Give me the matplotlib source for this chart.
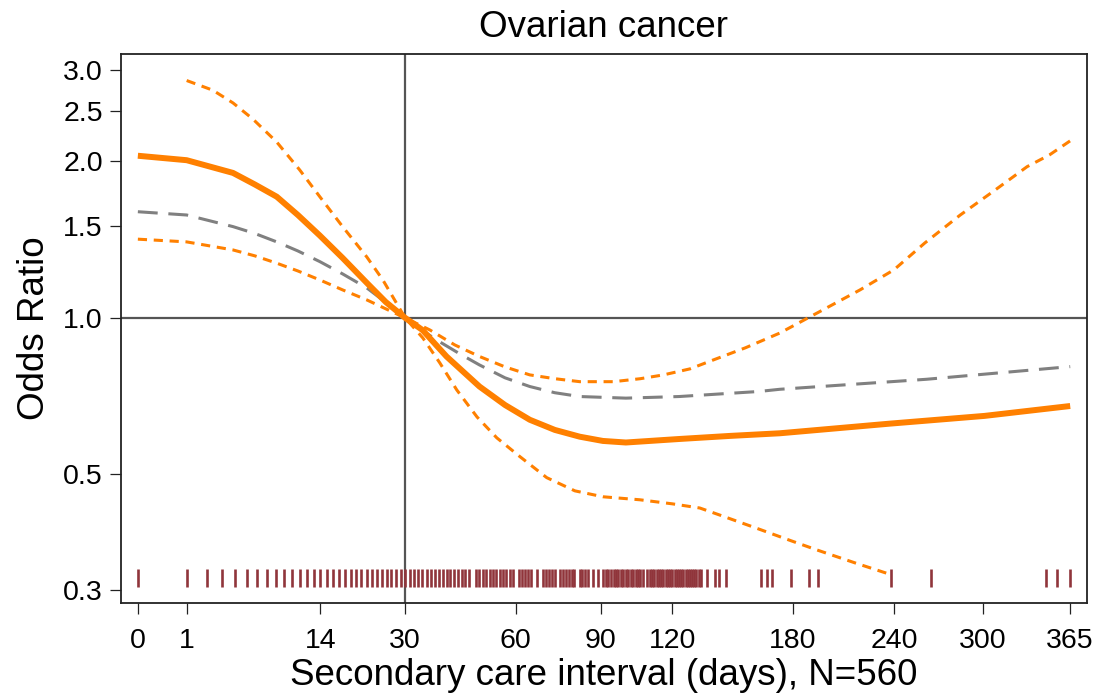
import numpy as np
import matplotlib
matplotlib.use("Agg")
import matplotlib.pyplot as plt

plt.rcParams["font.family"] = ["Liberation Sans", "DejaVu Sans"]

# spline estimate (days -> odds ratio)
est_days = [0, 1, 3.8, 5.75, 8.1, 10.75, 13.9, 17.6, 22, 25.8, 30, 34, 40, 49, 56.6,
            64.5, 73, 82, 90.8, 100, 123, 147, 173, 237, 301, 365]
est_or = [2.05, 2.01, 1.90, 1.805, 1.71, 1.577, 1.44, 1.304, 1.168, 1.073, 1.0, 0.948,
          0.843, 0.738, 0.680, 0.637, 0.609, 0.591, 0.580, 0.576, 0.585, 0.593, 0.600,
          0.626, 0.648, 0.677]

# 95% confidence band
upper_days = [1, 2.36, 3.8, 5.55, 8.1, 11.0, 13.9, 17.6, 22, 25.2, 30, 35.8, 42.2, 49,
              56.6, 64.5, 73, 82, 95, 106, 116, 128, 139, 155, 173, 190, 219, 240,
              260, 284, 307, 332, 349, 365]
upper_or = [2.86, 2.74, 2.59, 2.412, 2.178, 1.925, 1.71, 1.498, 1.31, 1.183, 1.0, 0.948,
            0.887, 0.843, 0.805, 0.777, 0.764, 0.754, 0.754, 0.764, 0.777, 0.798, 0.830,
            0.876, 0.935, 1.006, 1.132, 1.237, 1.393, 1.577, 1.749, 1.953, 2.058, 2.19]
lower_days = [0, 1, 3.8, 5.75, 8.1, 10.75, 13.9, 17.6, 22, 25.8, 30, 34.1, 38.3, 42.7,
              48.3, 54.1, 61.3, 70.2, 80.2, 90.8, 105.8, 120, 132.6, 142, 160, 179,
              193.6, 216, 238]
lower_or = [1.417, 1.40, 1.351, 1.316, 1.274, 1.231, 1.183, 1.132, 1.083, 1.041, 1.0,
            0.915, 0.819, 0.727, 0.645, 0.588, 0.541, 0.493, 0.465, 0.453, 0.447, 0.439,
            0.431, 0.418, 0.395, 0.373, 0.358, 0.338, 0.321]

# comparison curve (grey dashed)
adj_days = [0, 1, 3.8, 5.75, 8.1, 10.75, 13.9, 17.6, 22, 28.8, 30, 33.4, 38.3, 43.5,
            49, 56.6, 64.5, 73, 82, 100, 123, 162, 173, 261, 365]
adj_or = [1.60, 1.577, 1.498, 1.453, 1.40, 1.345, 1.283, 1.215, 1.142, 1.022, 1.0,
          0.952, 0.899, 0.853, 0.812, 0.767, 0.738, 0.718, 0.706, 0.701, 0.706, 0.722,
          0.729, 0.762, 0.806]

# observed intervals for the rug
rug_days = (list(range(0, 47)) + list(range(48, 60)) + list(range(61, 66)) + [67]
            + list(range(69, 74)) + list(range(75, 81)) + list(range(82, 86)) + [87, 89]
            + list(range(91, 108)) + list(range(109, 134))
            + [136, 140, 142, 145, 163, 166, 169, 179, 189, 194, 238, 264, 346, 355, 365])
rug_level = 0.316

xticks = [0, 1, 14, 30, 60, 90, 120, 180, 240, 300, 365]
yticks = [0.3, 0.5, 1.0, 1.5, 2.0, 2.5, 3.0]

ORANGE = "#FF8000"
GREY = "#808080"
CRANBERRY = "#90353B"
REFLINE = "#555555"


def fwd(x):
    x = np.asarray(x, dtype=float)
    return np.sign(x) * np.sqrt(np.abs(x))


def inv(x):
    x = np.asarray(x, dtype=float)
    return np.sign(x) * x ** 2


fig = plt.figure(figsize=(10.99, 6.99), dpi=100)
ax = fig.add_axes([0.110, 0.1373, 0.879, 0.7854])
ax.set_xscale("function", functions=(fwd, inv))
ax.set_yscale("log")

ax.axvline(30, color=REFLINE, lw=1.6, zorder=1)
ax.axhline(1.0, color=REFLINE, lw=1.6, zorder=1)

ax.plot(lower_days, lower_or, color=ORANGE, lw=2.2, ls=(0, (3, 2.2)), zorder=3)
ax.plot(upper_days, upper_or, color=ORANGE, lw=2.2, ls=(0, (3, 2.2)), zorder=3)
ax.plot(adj_days, adj_or, color=GREY, lw=2.2, ls=(0, (6.5, 3.5)), zorder=3)
ax.plot(est_days, est_or, color=ORANGE, lw=4.3, solid_capstyle="butt",
        solid_joinstyle="round", zorder=4)

ax.plot(rug_days, [rug_level] * len(rug_days), ls="none", marker="|",
        ms=12.5, mew=1.9, color=CRANBERRY, zorder=2)

ax.set_xlim(-0.121, 378.2)
ax.set_ylim(0.283, 3.216)
ax.set_xticks(xticks)
ax.set_xticklabels([str(t) for t in xticks])
ax.set_yticks(yticks)
ax.set_yticklabels([f"{t:.1f}" for t in yticks])
ax.yaxis.set_minor_locator(matplotlib.ticker.NullLocator())
ax.xaxis.set_minor_locator(matplotlib.ticker.NullLocator())

ax.tick_params(axis="both", direction="out", length=8, width=0.9, labelsize=20.5,
               color="#222222")
ax.tick_params(axis="x", pad=10)
ax.tick_params(axis="y", pad=5)
for sp in ax.spines.values():
    sp.set_linewidth(1.3)
    sp.set_color("#222222")

ax.set_title("Ovarian cancer", fontsize=26.5, pad=12)
ax.set_xlabel("Secondary care interval (days), N=560", fontsize=26.5, labelpad=3)
ax.set_ylabel("Odds Ratio", fontsize=26.5, labelpad=8)

fig.savefig("out.png", dpi=100)
